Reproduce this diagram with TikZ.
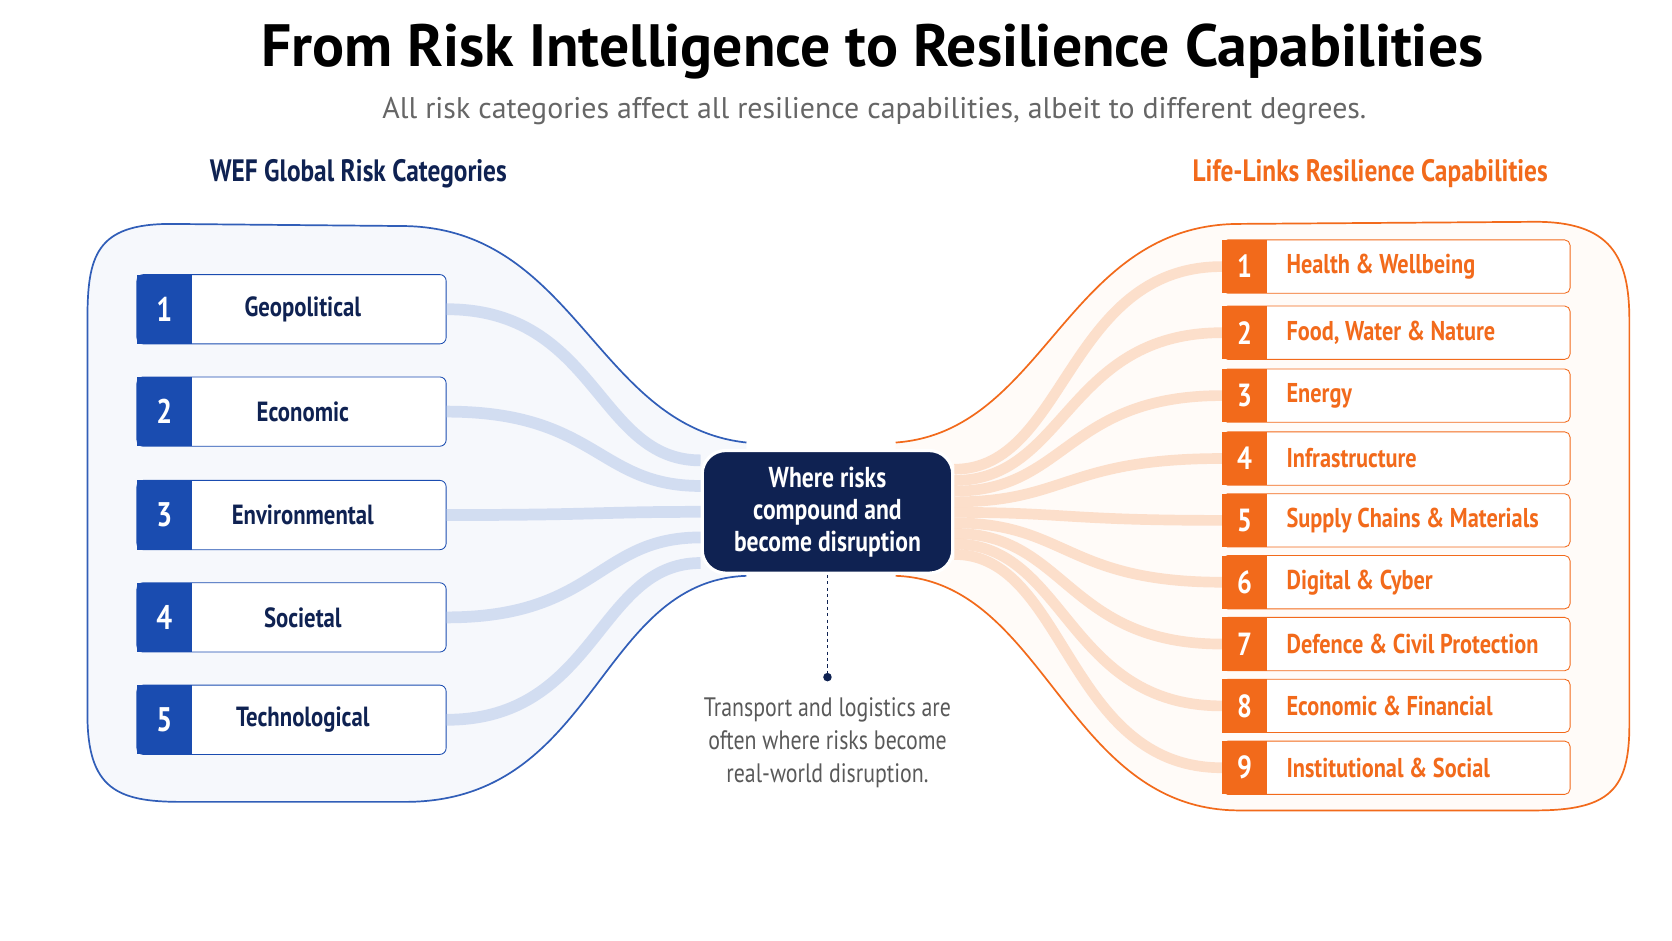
\documentclass[tikz,border=0pt]{standalone}
\usepackage{fontspec}
\setmainfont{PT Sans}
\newfontfamily\condfont{PT Sans}[FakeStretch=0.82]
\usetikzlibrary{positioning,calc}
\definecolor{navy}{HTML}{0F2252}
\definecolor{riskblue}{HTML}{1A4CB0}
\definecolor{linkblue}{HTML}{CAD7EF}
\definecolor{resorange}{HTML}{F26A1B}
\definecolor{linkorange}{HTML}{FCD8C0}
\begin{document}
\begin{tikzpicture}[x=1pt,y=-1pt]
\tikzstyle{risk}=[draw=riskblue,thick,rounded corners=6pt,fill=white,minimum width=290pt,minimum height=65pt,anchor=west]
\tikzstyle{risknum}=[fill=riskblue,text=white,minimum width=52pt,minimum height=65pt,font=\condfont\bfseries\fontsize{32}{32}\selectfont,anchor=west]
\tikzstyle{capbox}=[draw=resorange,thick,rounded corners=5pt,fill=white,minimum width=326pt,minimum height=50pt,anchor=west]
\tikzstyle{capnum}=[fill=resorange,text=white,minimum width=42pt,minimum height=50pt,font=\condfont\bfseries\fontsize{30}{30}\selectfont,anchor=west]
\tikzstyle{bluelink}=[linkblue,line width=11pt,opacity=.8]
\tikzstyle{orangelink}=[linkorange,line width=10pt,opacity=.8]

\useasboundingbox[fill=white] (0,0) rectangle (1568,882);

% titles
\node[font=\bfseries\fontsize{56}{56}\selectfont,text=black] (title) at (818,48) {From Risk Intelligence to Resilience Capabilities};
\node[font=\fontsize{28}{28}\selectfont,text=black!60] (sub) at (820,104) {All risk categories affect all resilience capabilities, albeit to different degrees.};
\node[font=\condfont\bfseries\fontsize{29}{29}\selectfont,text=navy] (lhead) at (336,163) {WEF Global Risk Categories};
\node[font=\condfont\bfseries\fontsize{29}{29}\selectfont,text=resorange] (rhead) at (1285,163) {Life-Links Resilience Capabilities};

% blobs
\draw[riskblue!90,line width=1.6pt,fill=riskblue!4] (700,415) .. controls (560,400) and (540,215) .. (380,212)
  -- (160,210) .. controls (90,210) and (82,240) .. (82,300) -- (82,670)
  .. controls (82,740) and (110,752) .. (170,752) -- (380,752)
  .. controls (560,752) and (560,545) .. (700,540);
\draw[resorange,line width=1.6pt,fill=resorange!3] (840,415) .. controls (980,405) and (1000,212) .. (1160,210)
  -- (1440,208) .. controls (1510,208) and (1528,240) .. (1528,300) -- (1528,680)
  .. controls (1528,740) and (1510,760) .. (1440,760) -- (1160,760)
  .. controls (1000,758) and (980,545) .. (840,540);

\node[fill=navy,text=white,rounded corners=22pt,minimum width=235pt,minimum height=115pt,align=center,
  font=\condfont\bfseries\fontsize{27}{30}\selectfont,draw=white,line width=3pt] (hub) at (776,480)
  {Where risks\\compound and\\become disruption};

% risk categories
\foreach \n/\t/\y in {1/Geopolitical/290,2/Economic/386,3/Environmental/483,4/Societal/579,5/Technological/675}{
  \node[risk] (L\n) at (128,\y) {};
  \node[risknum] (N\n) at (128,\y) {\n};
  \node[font=\condfont\bfseries\fontsize{26}{26}\selectfont,text=navy] (T\n) at (284,\y) {\t};
  \draw[bluelink] (L\n.east) .. controls (560,\y) and (560,{480+(\y-483)*0.25}) .. ([yshift={-(\y-483)*0.25}]hub.west);
}

% capabilities
\foreach \n/\t/\y in {1/Health \& Wellbeing/250,2/{Food, Water \& Nature}/312,3/Energy/371,4/Infrastructure/430,5/Supply Chains \& Materials/488,6/Digital \& Cyber/546,7/Defence \& Civil Protection/604,8/Economic \& Financial/662,9/Institutional \& Social/720}{
  \draw[orangelink] ([yshift={-(\y-485)*0.17}]hub.east) .. controls (1000,{480+(\y-485)*0.17}) and (1000,\y) .. (1146,\y);
  \node[capbox] (R\n) at (1146,\y) {};
  \node[capnum] (M\n) at (1146,\y) {\n};
  \node[font=\condfont\bfseries\fontsize{25.5}{25.5}\selectfont,text=resorange,anchor=west] (S\n) at (1203,\y) {\t};
}

% note
\coordinate (dot) at (776,635);
\draw[navy,dashed,thick] (hub.south) -- (dot);
\fill[navy] (dot) circle (4pt);
\node[below=16pt of dot,align=center,text=black!65,font=\condfont\fontsize{25}{31}\selectfont] (note)
  {Transport and logistics are\\often where risks become\\real-world disruption.};
\end{tikzpicture}
\end{document}
